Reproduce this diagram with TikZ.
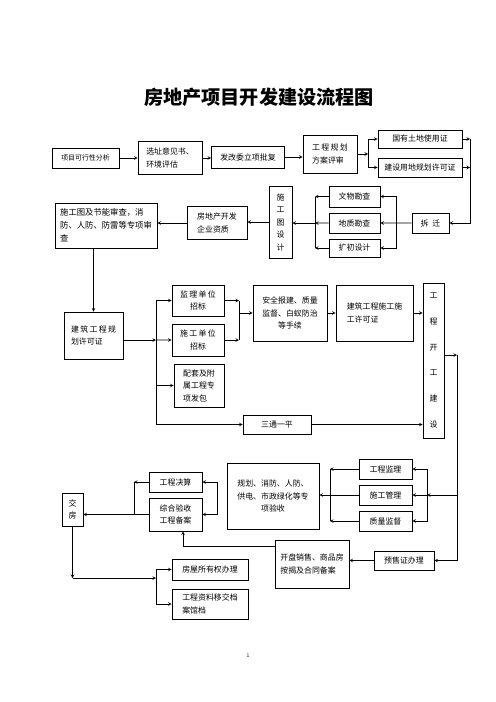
\documentclass[tikz,border=0pt]{standalone}
\usepackage{fontspec}
\setmainfont{Noto Sans CJK SC}
\usetikzlibrary{positioning}
\newlength{\px}\setlength{\px}{1.2pt}
\newcommand{\fs}{\fontsize{9.5}{15}\selectfont}
\tikzset{wh/.style 2 args={minimum width=#1\px,minimum height=#2\px}}

\begin{document}
\begin{tikzpicture}[x=1.2pt,y=-1.2pt,on grid,line width=0.9pt,
    box/.style={draw,inner sep=1pt,align=center,font=\fs},
    lbox/.style={box,align=left},
    ar/.style={-stealth}]
  \useasboundingbox (0,0) rectangle (496,702);
  \node[font=\bfseries\fontsize{23}{26}\selectfont] (title) at (259,97) {房地产项目开发建设流程图};

  % first row
  \node[box,wh={67}{20},font=\fontsize{8.3}{10}\selectfont] (kxx) at (85.5,158) {项目可行性分析};
  \node[lbox,wh={64}{33}] (xuanzhi) at (170,158) {选址意见书、\\环境评估};
  \node[box,wh={73}{22}] (fagai) at (248,157) {发改委立项批复};
  \node[lbox,wh={54}{38}] (ghpz) at (330,154) {工\,程\,规\,划\\方案评审};
  \node[box,wh={84}{18}] (guoyou) at (420,139) {国有土地使用证};
  \node[box,wh={84}{19}] (jsyd) [below=28.5\px of guoyou] {建设用地规划许可证};

  % surveys
  \node[box,wh={37}{20}] (chaiqian) at (430.5,223) {拆\enspace 迁};
  \node[box,wh={51}{21}] (wenwu) at (354.5,196.5) {文物勘查};
  \node[box,wh={51}{20}] (dizhi) [below=26.5\px of wenwu] {地质勘查};
  \node[box,wh={51}{18}] (kuochu) [below=25\px of dizhi] {扩初设计};
  \node[box,wh={23}{72}] (sgtsj) at (280.5,222) {施\\工\\图\\设\\计};
  \node[lbox,wh={60}{33}] (qyzz) at (217,223) {房地产开发\\企业资质};
  \node[lbox,wh={102}{45},font=\fontsize{10}{15.5}\selectfont] (sgtsc) at (106,225.5) {施工图及节能审查，消\\防、人防、防雷等专项审\\查};

  % permits and tenders
  \node[lbox,wh={59}{47}] (ghxk) at (93.5,335.5) {建\,筑\,工\,程\,规\\划许可证};
  \node[box,wh={52}{31}] (jianli) at (198,300.5) {监\,理\,单\,位\\招标};
  \node[box,wh={52}{32}] (shigong) [below=39.5\px of jianli] {施\,工\,单\,位\\招标};
  \node[lbox,wh={50}{43}] (peitao) at (199,385.5) {配套及附\\属工程专\\项发包};
  \node[box,wh={68}{19}] (santong) at (277,424.5) {三通一平};
  \node[box,wh={74}{56}] (anquan) at (290,313) {安全报建、质量\\监督、白蚁防治\\等手续};
  \node[lbox,wh={77}{56}] (sgxk) [right=84.5\px of anquan] {建筑工程施工施\\工许可证};
  \node[box,wh={21}{155},font=\fontsize{9.5}{31}\selectfont] (kaigong) at (433.5,360.5) {工\\程\\开\\工\\建\\设};

  % acceptance and sales
  \node[box,wh={53}{20}] (jgjl) at (385.5,469) {工程监理};
  \node[box,wh={53}{20}] (sggl) [below=26\px of jgjl] {施工管理};
  \node[box,wh={53}{20}] (zljd) [below=26\px of sggl] {质量监督};
  \node[box,wh={92}{66}] (zxys) at (273,496) {规划、消防、人防、\\供电、市政绿化等专\\项验收};
  \node[box,wh={60}{19}] (yushou) at (404,560.5) {预售证办理};
  \node[lbox,wh={74}{48}] (kaipan) at (312,564) {开盘销售、商品房\\按揭及合同备案};
  \node[box,wh={53}{20}] (juesuan) at (175.5,482) {工程决算};
  \node[lbox,wh={53}{33}] (beian) at (175.5,514.5) {综合验收\\工程备案};
  \node[box,wh={21}{33}] (jiaofang) at (72.5,509.5) {交\\房};
  \node[box,wh={76}{21}] (chanquan) at (210,569.5) {房屋所有权办理};
  \node[lbox,wh={76}{30}] (dangan) [below=34.5\px of chanquan] {工程资料移交档\\案馆档};
  \node[font=\fontsize{6}{7}\selectfont] (pnum) at (248,656) {1};

  % junctions
  \coordinate (j1) at (368,154);
  \coordinate (j2) at (470,139);
  \coordinate (j3) at (396,223);
  \coordinate (j4) at (315,223);
  \coordinate (j5) at (156,340);
  \coordinate (j6) at (239,313);
  \coordinate (j7) at (457,355);
  \coordinate (j8) at (427,495);
  \coordinate (j9) at (330,495);
  \coordinate (j10) at (183,546);
  \coordinate (j11) at (217,482);
  \coordinate (j12) at (134,482);
  \coordinate (j13) at (156,578);

  \path[ar]
    (kxx) edge (xuanzhi)
    (xuanzhi.east) edge (xuanzhi.east -| fagai.west)
    (fagai.east) edge (fagai.east -| ghpz.west)
    (ghpz.east) edge (j1)
    (j1) edge[to path={|- (\tikztotarget)}] (guoyou)
    (j1) edge[to path={|- (\tikztotarget)}] (jsyd)
    (guoyou) edge (guoyou -| j2)
    (jsyd) edge (jsyd -| j2)
    (j2) edge[to path={|- (\tikztotarget)}] (chaiqian)
    (chaiqian) edge (dizhi)
    (j3) edge[to path={|- (\tikztotarget)}] (wenwu)
    (j3) edge[to path={|- (\tikztotarget)}] (kuochu)
    (wenwu) edge (wenwu -| j4)
    (dizhi) edge (j4)
    (kuochu) edge (kuochu -| j4)
    (j4) edge (j4 -| sgtsj.east)
    (sgtsj.west) edge (sgtsj.west -| qyzz.east)
    (qyzz.west) edge (qyzz.west -| sgtsc.east);
  \draw (wenwu -| j4) -- (kuochu -| j4);

  \draw[ar] (ghxk.north |- sgtsc.south) -- (ghxk);
  \path[ar]
    (ghxk.east |- j5) edge (j5)
    (j5) edge[to path={|- (\tikztotarget)}] (jianli)
    (j5) edge (shigong)
    (j5) edge[to path={|- (\tikztotarget)}] (peitao)
    (j5) edge[to path={|- (\tikztotarget)}] (santong)
    (jianli) edge (jianli -| j6)
    (shigong) edge (shigong -| j6)
    (j6) edge (anquan)
    (anquan) edge (sgxk)
    (sgxk) edge (sgxk -| kaigong.west)
    (santong) edge (santong -| kaigong.west)
    (kaigong.east |- j7) edge (j7);
  \draw (jianli -| j6) -- (shigong -| j6);

  \draw[ar] (j7) |- (yushou);
  \path[ar]
    (j7 |- j8) edge (j8)
    (j8) edge[to path={|- (\tikztotarget)}] (jgjl)
    (j8) edge (sggl)
    (j8) edge[to path={|- (\tikztotarget)}] (zljd)
    (jgjl) edge (jgjl -| j9)
    (zljd) edge (zljd -| j9)
    (sggl.west) edge (sggl.west -| zxys.east)
    (yushou.west) edge (yushou.west -| kaipan.east);
  \draw (jgjl -| j9) -- (zljd -| j9);

  \draw[ar] (kaipan.west |- j10) -- (j10) -- (j10 |- beian.south);
  \draw[stealth-stealth] (juesuan) -- (juesuan -| j11) -- (j11 |- beian) -- (beian);
  \draw[ar] (beian) -- (beian -| jiaofang.east);
  \draw[ar] (juesuan) -- (j12);
  \draw (j12) -- (j12 |- beian);
  \draw[ar] (jiaofang) -- (jiaofang |- j13);
  \draw[ar] (jiaofang |- j13) -- (j13);
  \draw[ar] (j13) |- (chanquan);
  \draw[ar] (j13) |- (dangan);
\end{tikzpicture}
\end{document}
